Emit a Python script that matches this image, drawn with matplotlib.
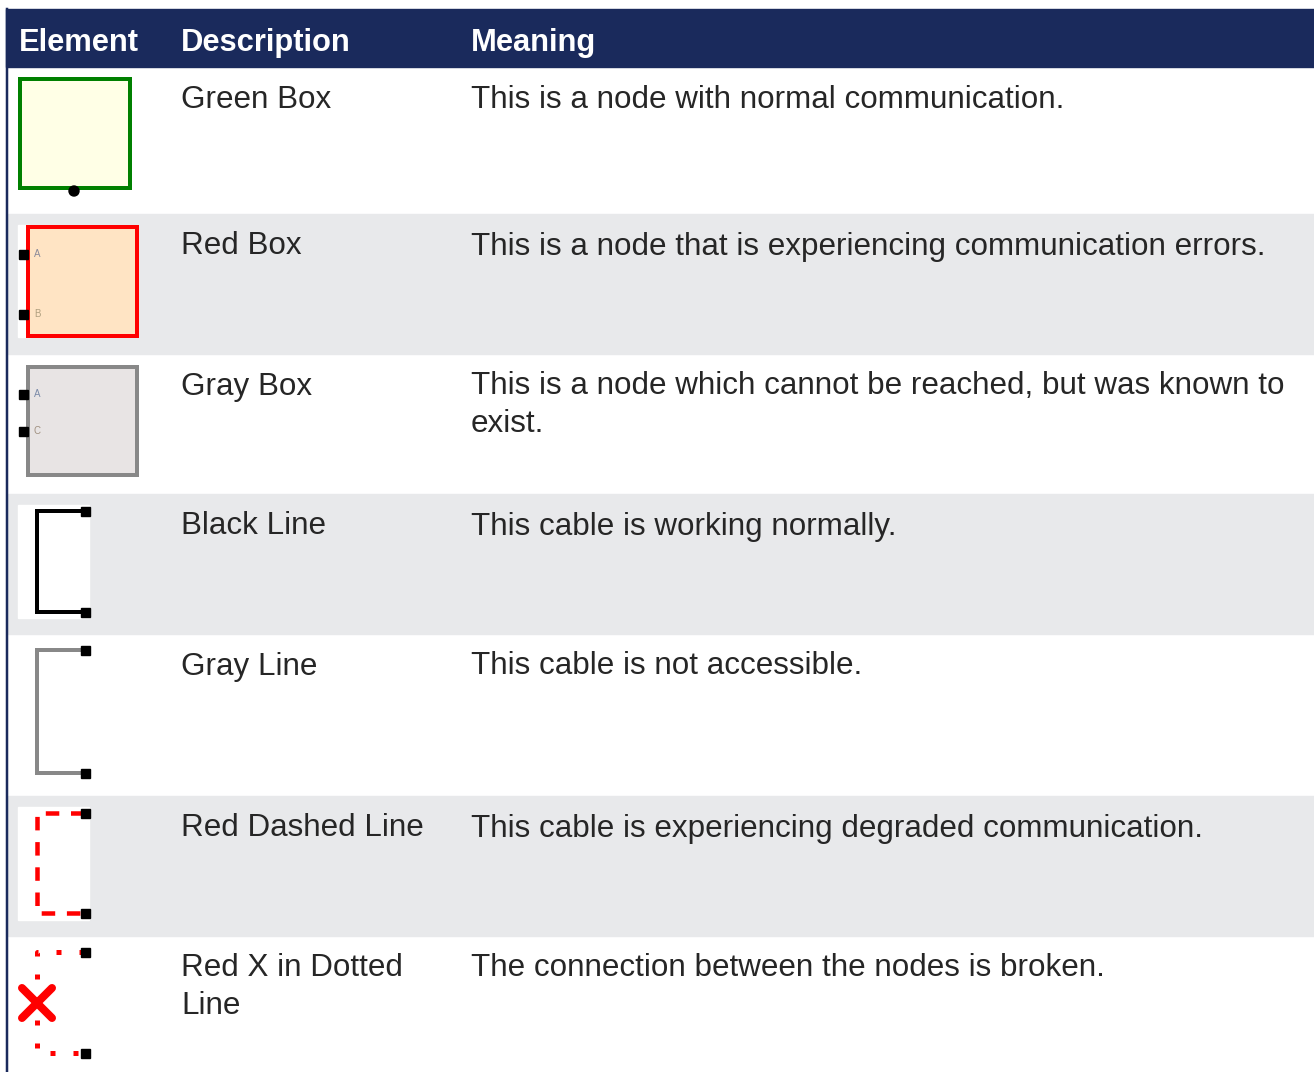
import matplotlib.pyplot as plt
from matplotlib.patches import Rectangle
from matplotlib.lines import Line2D

headers = ["Element", "Description", "Meaning"]
descriptions = ["Green Box", "Red Box", "Gray Box", "Black Line", "Gray Line",
                "Red Dashed Line", "Red X in Dotted\nLine"]
meanings = [
    "This is a node with normal communication.",
    "This is a node that is experiencing communication errors.",
    "This is a node which cannot be reached, but was known to\nexist.",
    "This cable is working normally.",
    "This cable is not accessible.",
    "This cable is experiencing degraded communication.",
    "The connection between the nodes is broken.",
]
# row boundaries (px) and which rows are shaded
row_edges = [67, 214, 354, 494, 634, 796, 936, 1072]
shaded = [False, True, False, True, False, True, False]

W, H = 1314, 1072
NAVY = "#1a2a5c"
TXT = "#262626"
FONT = "Liberation Sans"
px = 0.72  # px -> pt at dpi 100
LINE_H = 38

fig = plt.figure(figsize=(W / 100, H / 100), dpi=100)
ax = fig.add_axes([0, 0, 1, 1])
ax.set_xlim(0, W)
ax.set_ylim(H, 0)
ax.axis("off")

# header
ax.add_patch(Rectangle((6, 9), W - 6, 58, color=NAVY, zorder=1))
col_x = [19, 181, 471]
for x, h in zip(col_x, headers):
    ax.text(x, 51, h, color="white", fontsize=22.2, fontweight="bold",
            family=FONT, va="baseline", ha="left", zorder=3)


def cell(x, y, s):
    for k, line in enumerate(s.split("\n")):
        ax.text(x, y + k * LINE_H, line, color=TXT, fontsize=22.6,
                family=FONT, va="baseline", ha="left")


# rows
for i in range(len(descriptions)):
    y0, y1 = row_edges[i], row_edges[i + 1]
    if shaded[i]:
        ax.add_patch(Rectangle((8, y0), W - 8, y1 - y0, color="#e8e9eb", zorder=0))
    cell(col_x[1], y0 + 40.5, descriptions[i])
    cell(col_x[2], y0 + 40.5, meanings[i])

# left border
ax.add_line(Line2D([7, 7], [9, H], color=NAVY, lw=2.5 * px))


def box(x0, y0, x1, y1, edge, fill):
    ax.add_patch(Rectangle((x0, y0), x1 - x0, y1 - y0, facecolor=fill,
                           edgecolor=edge, lw=4 * px, zorder=2))


def port(x, y, s=10):
    ax.add_patch(Rectangle((x - s / 2, y - s / 2), s, s, color="black", zorder=4))


def tag(x, y, t, c):
    ax.text(x, y, t, fontsize=7, color=c, family=FONT,
            va="center", ha="left", zorder=5)


# green box
box(20, 79, 130, 188, "#008000", "#ffffe6")
ax.add_patch(plt.Circle((74, 191), 5, color="black", zorder=4))

# red box
ax.add_patch(Rectangle((18, 225), 12, 112, color="white", zorder=1))
box(28, 227, 137, 336, "#ff0000", "#ffe4c4")
port(23, 254, 9)
port(23, 314, 9)
tag(34, 254, "A", "#8a8a9a")
tag(34, 314, "B", "#b0a080")

# gray box
box(28, 367, 137, 475, "#888888", "#e8e4e4")
port(23, 394, 9)
port(23, 431, 9)
tag(34, 394, "A", "#7a8aa8")
tag(34, 431, "C", "#a09080")


def bracket(top, bot, color, style="-", lw=4):
    ax.add_line(Line2D([84, 37, 37, 84], [top, top, bot, bot], color=color,
                       lw=lw * px, linestyle=style, solid_joinstyle="miter",
                       dash_capstyle="butt", zorder=3))
    port(85, top, 9)
    port(85, bot, 9)


# black line
ax.add_patch(Rectangle((18, 505), 71, 113, color="white", zorder=1))
bracket(511, 612, "black")

# gray line
bracket(650, 773, "#888888")

# red dashed line
ax.add_patch(Rectangle((18, 807), 71, 113, color="white", zorder=1))
bracket(813, 913, "#ff0000", style=(0, (3, 2.6)), lw=4.5)

# red X in dotted line
bracket(952, 1053, "#ff0000", style=(0, (1, 3.6)), lw=5)
ax.add_line(Line2D([22, 52], [988, 1018], color="#ff0000", lw=8 * px,
                   solid_capstyle="round", zorder=5))
ax.add_line(Line2D([22, 52], [1018, 988], color="#ff0000", lw=8 * px,
                   solid_capstyle="round", zorder=5))

fig.savefig("out.png", dpi=100)
